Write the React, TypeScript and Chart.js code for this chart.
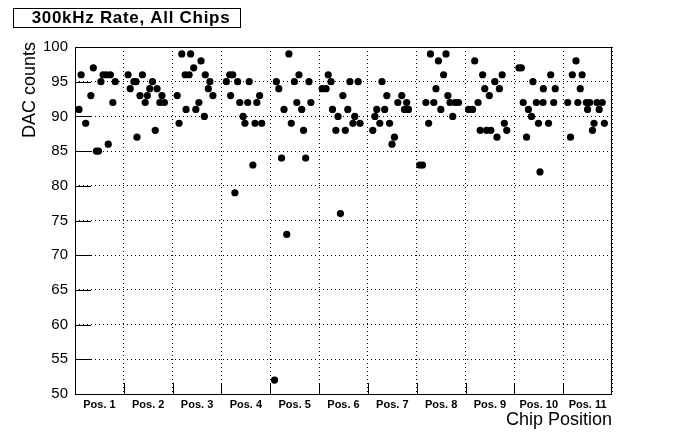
import { useEffect, useRef } from 'react';
import { Chart, registerables } from 'chart.js';

Chart.register(...registerables);

const chartTitle = '300kHz Rate, All Chips';
const xAxisTitle = 'Chip Position';
const yAxisTitle = 'DAC counts';
const positionLabels = ['Pos. 1', 'Pos. 2', 'Pos. 3', 'Pos. 4', 'Pos. 5', 'Pos. 6', 'Pos. 7', 'Pos. 8', 'Pos. 9', 'Pos. 10', 'Pos. 11'];
const chipsPerPosition = 16;
const yMin = 50;
const yMax = 100;
const yStep = 5;

// chip slot (0..176 across all positions) of every chip, grouped by position
const chipSlot: number[][] = [
  [1.3, 2.0, 3.5, 5.2, 6.0, 7.0, 7.7, 8.5, 9.2, 10.3, 10.9, 11.6, 12.4, 13.2],
  [17.4, 18.1, 19.3, 20.0, 20.3, 21.3, 22.1, 23.0, 23.7, 24.5, 25.4, 26.3, 26.9, 27.8, 28.5, 29.3],
  [33.5, 34.1, 35.0, 37.9, 36.1, 37.4, 36.4, 38.9, 39.6, 40.6, 41.3, 42.4, 42.7, 43.7, 44.2, 45.2],
  [49.6, 50.7, 51.7, 51.0, 52.4, 53.3, 54.0, 55.1, 55.7, 56.6, 57.1, 58.3, 59.0, 59.6, 60.5, 61.2],
  [65.4, 66.0, 66.8, 67.7, 68.5, 69.4, 70.1, 70.9, 71.9, 72.7, 73.4, 74.3, 74.9, 75.6, 76.7, 77.3],
  [81.0, 82.3, 83.0, 83.9, 84.4, 85.5, 86.2, 87.0, 87.8, 88.6, 89.4, 90.1, 91.1, 91.7, 92.8, 93.4],
  [97.6, 98.3, 98.9, 99.9, 100.6, 101.5, 102.2, 103.1, 103.9, 104.7, 105.8, 107.1, 108.0, 108.7, 109.3],
  [113.0, 113.9, 115.0, 115.9, 116.5, 117.6, 118.3, 119.1, 119.9, 120.8, 121.6, 122.2, 122.9, 123.8, 124.6, 125.7],
  [129.0, 130.3, 131.0, 132.1, 132.8, 133.6, 134.3, 134.9, 135.8, 136.3, 137.6, 138.3, 139.1, 140.0, 140.7, 141.5],
  [145.5, 146.3, 146.9, 148.0, 148.6, 149.6, 150.1, 151.2, 151.9, 152.4, 153.4, 153.5, 155.2, 155.9, 156.9, 157.4],
  [161.5, 162.4, 163.0, 164.2, 164.8, 165.6, 166.2, 167.6, 168.0, 168.7, 169.6, 170.1, 171.1, 171.8, 172.8, 173.5],
];

// DAC counts of every chip, grouped by position
const dacCounts: number[][] = [
  [91, 96, 89, 93, 97, 85, 85, 95, 96, 96, 86, 96, 92, 95],
  [96, 94, 95, 95, 87, 93, 96, 92, 93, 94, 95, 88, 94, 92, 93, 92],
  [93, 89, 99, 99, 96, 96, 91, 97, 91, 92, 98, 90, 96, 94, 95, 93],
  [95, 96, 96, 93, 79, 95, 92, 90, 89, 92, 95, 83, 89, 92, 93, 89],
  [52, 95, 94, 84, 91, 73, 99, 89, 95, 92, 96, 91, 88, 84, 95, 92],
  [94, 94, 96, 95, 91, 88, 90, 76, 93, 88, 91, 95, 89, 90, 95, 89],
  [88, 90, 91, 89, 95, 91, 93, 89, 86, 87, 92, 93, 91, 92, 91],
  [83, 83, 92, 89, 99, 92, 94, 98, 91, 96, 99, 93, 92, 90, 92, 92],
  [91, 91, 98, 92, 88, 96, 94, 88, 93, 88, 95, 87, 94, 96, 89, 88],
  [97, 97, 92, 87, 91, 90, 95, 92, 89, 82, 92, 94, 89, 96, 92, 94],
  [92, 87, 96, 98, 92, 94, 96, 92, 91, 92, 88, 89, 92, 91, 92, 89],
];

const FONT = '"Liberation Sans", Arial, Helvetica, sans-serif';

const rootFramePlugin = {
  id: 'rootFrame',
  afterDraw(chart: any) {
    const { ctx, chartArea: a, scales } = chart;
    const L = Math.round(a.left);
    const R = Math.round(a.right);
    const T = Math.round(a.top);
    const B = Math.round(a.bottom);
    ctx.save();
    ctx.strokeStyle = '#000';
    ctx.lineWidth = 1;
    ctx.strokeRect(L + 0.5, T + 0.5, R - L - 1, B - T);
    ctx.beginPath();
    for (let k = 1; k < positionLabels.length; k++) {
      const px = Math.round(scales.x.getPixelForValue(k * chipsPerPosition)) + 0.5;
      ctx.moveTo(px, B);
      ctx.lineTo(px, B - 11);
    }
    for (let v = yMin + yStep; v < yMax; v += yStep) {
      const py = Math.round(scales.y.getPixelForValue(v)) + 0.5;
      ctx.moveTo(L, py);
      ctx.lineTo(L + 16, py);
    }
    ctx.stroke();

    // title box
    ctx.fillStyle = '#fff';
    ctx.fillRect(13.5, 8.5, 227, 19);
    ctx.strokeRect(13.5, 8.5, 227, 19);
    ctx.fillStyle = '#000';
    ctx.font = `bold 17px ${FONT}`;
    (ctx as any).letterSpacing = '0.7px';
    ctx.textAlign = 'center';
    ctx.textBaseline = 'middle';
    ctx.fillText(chartTitle, 131, 18.5);
    (ctx as any).letterSpacing = '0px';

    // axis titles
    ctx.font = `18px ${FONT}`;
    ctx.textAlign = 'right';
    ctx.textBaseline = 'middle';
    ctx.fillText(xAxisTitle, R, 420);
    ctx.save();
    ctx.translate(30, 42);
    ctx.rotate(-Math.PI / 2);
    ctx.fillText(yAxisTitle, 0, 0);
    ctx.restore();
    ctx.restore();
  },
};

export default function App() {
  const canvasRef = useRef<HTMLCanvasElement | null>(null);

  useEffect(() => {
    if (!canvasRef.current) return;
    const points = chipSlot.flatMap((xs, p) => xs.map((x, i) => ({ x, y: dacCounts[p][i] })));
    const xMax = positionLabels.length * chipsPerPosition;
    const chart = new Chart(canvasRef.current, {
      type: 'scatter',
      data: {
        datasets: [
          {
            label: 'DAC counts',
            data: points,
            pointRadius: 3.6,
            pointHoverRadius: 3.6,
            pointBackgroundColor: '#000',
            pointBorderWidth: 0,
            showLine: false,
          },
        ],
      },
      options: {
        responsive: false,
        animation: false,
        events: [],
        layout: { padding: { top: 47, right: 75, left: 0, bottom: 0 } },
        plugins: { legend: { display: false }, tooltip: { enabled: false }, title: { display: false } },
        scales: {
          x: {
            type: 'linear',
            min: 0,
            max: xMax,
            afterFit: (s: any) => {
              s.height = 48;
            },
            afterBuildTicks: (s: any) => {
              const t = [];
              for (let v = 0; v <= xMax; v += chipsPerPosition / 2) t.push({ value: v });
              s.ticks = t;
            },
            ticks: {
              autoSkip: false,
              maxRotation: 0,
              padding: 4,
              color: '#000',
              font: { family: FONT, size: 11, weight: 'bold' },
              callback: (v: any) => {
                const n = Number(v);
                if (n % chipsPerPosition === chipsPerPosition / 2) return positionLabels[(n - chipsPerPosition / 2) / chipsPerPosition];
                return '';
              },
            },
            grid: {
              drawTicks: false,
              lineWidth: 1,
              color: (c: any) => (c.tick && c.tick.value % chipsPerPosition === 0 ? '#000' : 'rgba(0,0,0,0)'),
            },
            border: { display: false, dash: [1, 3] },
          },
          y: {
            type: 'linear',
            min: yMin,
            max: yMax,
            afterFit: (s: any) => {
              s.width = 75;
            },
            ticks: {
              stepSize: yStep,
              padding: 7,
              color: '#000',
              font: { family: FONT, size: 15 },
            },
            grid: { drawTicks: false, color: '#000', lineWidth: 1 },
            border: { display: false, dash: [1, 3] },
          },
        },
      },
      plugins: [rootFramePlugin],
    });
    return () => chart.destroy();
  }, []);

  return (
    <div style={{ position: 'absolute', left: 0, top: 0, width: 687, height: 442, background: '#fff' }}>
      <canvas ref={canvasRef} width={687} height={442} style={{ display: 'block', width: 687, height: 442 }} />
    </div>
  );
}
